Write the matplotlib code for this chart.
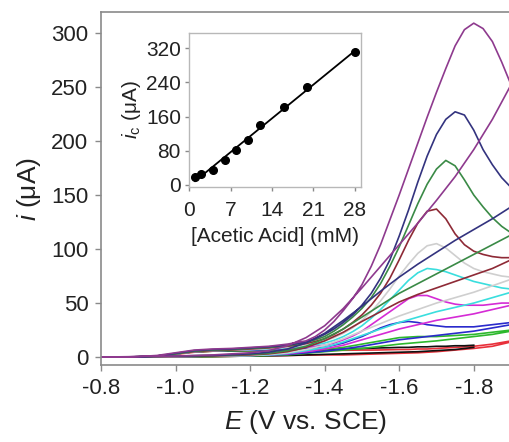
import numpy as np
import matplotlib
matplotlib.use('Agg')
import matplotlib.pyplot as plt

plt.rcParams['font.family'] = ['Liberation Sans', 'DejaVu Sans']
plt.rcParams['mathtext.fontset'] = 'custom'
plt.rcParams['mathtext.rm'] = 'Liberation Sans'
plt.rcParams['mathtext.it'] = 'Liberation Sans:italic'

nan = np.nan

# potential grids (V vs SCE): forward scan, then reverse scan
e_fwd = [-0.8, -0.85, -0.9, -0.95, -1.0, -1.05, -1.1, -1.15, -1.2, -1.25,
         -1.3, -1.325, -1.35, -1.375, -1.4, -1.425, -1.45, -1.475, -1.5, -1.525,
         -1.55, -1.575, -1.6, -1.625, -1.65, -1.675, -1.7, -1.725, -1.75, -1.775,
         -1.8, -1.825, -1.85, -1.875, -1.9]
e_rev = [-1.9, -1.85, -1.8, -1.75, -1.7, -1.65, -1.6, -1.55, -1.5, -1.45,
         -1.4, -1.35, -1.3, -1.25, -1.2, -1.1, -1.0, -0.9, -0.8]

# currents (uA), one CV per acid concentration
red_fwd = [0, 0, 0.3, 1, 2.5, 4.5, 5.5, 5.8, 6, 6,
           6, 6, 6, 6, 6, 6.2, 6.3, 6.4, 6.5, 6.5,
           6.6, 6.8, 7, 7, 7.5, 7.5, 8, 8.5, 9, 9.5,
           10, 11, 12, 13.5, 15]
red_rev = [14, 10, 8, 6.5, 5, 4, 3.5, 3, 2.5, 2, 2, 1.8, 1.5, 1.2, 1, 0.5, 0.3, 0.2, 0]
black_fwd = [0, 0, 0.3, 1, 3, 5, 5.5, 5.8, 6, 6.2,
             6.5, 6.6, 6.8, 6.9, 7, 7.2, 7.5, 7.8, 8, 8.2,
             8.5, 8.7, 9, 9, 9.5, 9.5, 10, 10, 10.5, 10.5,
             11, nan, nan, nan, nan]
black_rev = [nan, nan, 9, 7, 6, 5, 4.5, 4, 3.5, 3, 2.5, 2, 1.5, 1.2, 1, 0.5, 0.3, 0.2, 0]
green_fwd = [0, 0, 0.3, 1, 3, 5, 5.5, 5.8, 6, 6.2,
             6.5, 6.7, 6.8, 7, 7, 8, 9, 10.5, 12, 13.5,
             15, 16.5, 18, 18.5, 19, 19, 19, 19.5, 20, 20.5,
             21, 22, 23, 24, 25]
green_rev = [24, 21, 19, 17, 15, 13.5, 12, 10, 8, 6.5, 5, 3.5, 2, 1.5, 1, 0.5, 0.3, 0.2, 0]
blue_fwd = [0, 0, 0.3, 1, 3, 5, 6, 6.2, 6.5, 7,
            7.5, 7.8, 8, 8.5, 9, 11, 13, 16, 19, 23,
            27, 30, 32, 33, 32, 30, 29, 28, 28, 28,
            28, 29, 30, 31, 32]
blue_rev = [30, 27, 24, 22, 20, 18, 16, 13, 10, 7.5, 5.5, 4, 2.5, 2, 1.5, 1, 0.5, 0.2, 0]
magenta_fwd = [0, 0, 0.3, 1, 3, 5, 6, 6.5, 7, 7.5,
               8, 8.5, 9.5, 10, 11, 13, 16, 19.5, 24, 30,
               36, 42, 48, 54, 57, 57, 54, 51, 49, 48,
               48, 48, 49, 50, 50]
magenta_rev = [48, 44, 40, 37, 34, 30, 26, 21, 16, 11, 7.5, 5, 3, 2, 1.5, 1, 0.5, 0.2, 0]
cyan_fwd = [0, 0, 0.3, 1, 3, 5, 6, 6.5, 7, 7.5,
            8.5, 9.5, 10.5, 11.5, 13, 15.5, 19, 23.5, 29, 36,
            44, 53, 62, 71, 78, 82, 81, 79, 76, 73,
            70, 68, 66, 64, 63]
cyan_rev = [60, 55, 50, 46, 42, 37, 32, 26, 20, 14, 9, 6, 3.5, 2, 1.5, 1, 0.5, 0.2, 0]
gray_fwd = [0, 0, 0.3, 1, 3, 5, 6, 6.5, 7, 8,
            9, 10, 11, 13, 15, 18, 22, 27, 34, 42,
            52, 63, 75, 86, 96, 103, 105, 101, 94, 87,
            82, 79, 77, 75, 74]
gray_rev = [72, 66, 60, 55, 50, 44, 38, 31, 24, 17, 11, 7, 4, 2.5, 1.5, 1, 0.5, 0.2, 0]
brown_fwd = [0, 0, 0.3, 1, 3, 5, 6, 6.5, 7.5, 8.5,
             10, 11, 12.5, 14.5, 17, 21, 26, 32, 39, 48,
             59, 73, 90, 108, 124, 135, 137, 128, 114, 104,
             98, 95, 93, 92, 92]
brown_rev = [90, 82, 76, 70, 64, 58, 51, 42, 33, 23, 15, 9, 5, 3, 2, 1, 0.5, 0.2, 0]
dgreen_fwd = [0, 0, 0.3, 1, 3, 5.5, 6.5, 7, 8, 9,
              10.5, 12, 13.5, 16, 19, 24, 30, 37, 45, 55,
              68, 84, 102, 122, 142, 160, 174, 182, 177, 164,
              150, 139, 129, 121, 115]
dgreen_rev = [113, 104, 95, 86, 77, 68, 59, 48, 37, 26, 17, 10, 6, 3.5, 2.5, 1.5, 1, 0.3, 0]
navy_fwd = [0, 0, 0.3, 1, 3.5, 6, 7, 7.5, 8.5, 9.5,
            11, 12.5, 14, 17, 21, 26, 32, 39, 48, 59,
            73, 90, 112, 136, 162, 186, 206, 220, 227, 224,
            210, 192, 178, 166, 157]
navy_rev = [139, 128, 118, 108, 97, 86, 74, 61, 47, 34, 22, 13, 7.5, 4.5, 3, 1.5, 1, 0.3, 0]
purple_fwd = [0, 0, 0.5, 1.5, 4, 6.5, 7.5, 8, 9, 10,
              12, 13.5, 15, 19, 25, 33, 43, 54, 67, 84,
              104, 127, 150, 174, 198, 222, 245, 267, 288, 303,
              309, 304, 292, 273, 252]
purple_rev = [252, 220, 192, 167, 145, 124, 104, 84, 64, 45, 29, 18, 10.5, 6, 4, 2, 1, 0.5, 0]

# inset: catalytic current vs acid concentration
acid_mM = [1, 2, 4, 6, 8, 10, 12, 16, 20, 28]
ic_uA = [18, 25, 35, 58, 82, 105, 140, 182, 228, 310]

curves = [
    (red_fwd, red_rev, '#e8303a'),
    (black_fwd, black_rev, '#111111'),
    (green_fwd, green_rev, '#2db82d'),
    (blue_fwd, blue_rev, '#2a2acc'),
    (magenta_fwd, magenta_rev, '#d52bd5'),
    (cyan_fwd, cyan_rev, '#3adede'),
    (gray_fwd, gray_rev, '#cfcfcf'),
    (brown_fwd, brown_rev, '#8e2a36'),
    (dgreen_fwd, dgreen_rev, '#3a8a46'),
    (navy_fwd, navy_rev, '#33337f'),
    (purple_fwd, purple_rev, '#8e3a8e'),
]

spine_c = '#8a8a8a'
text_c = '#222222'

fig = plt.figure(figsize=(5.10, 4.42), dpi=100)
ax = fig.add_axes([0.198, 0.174, 0.804, 0.799])

for fwd, rev, c in curves:
    ax.plot(e_fwd + e_rev, fwd + rev, color=c, lw=1.2, solid_joinstyle='round')

ax.set_xlim(-0.8, -1.9)
ax.set_ylim(-7.4, 319.4)
ax.set_xticks([-0.8, -1.0, -1.2, -1.4, -1.6, -1.8])
ax.set_xticklabels(['-0.8', '-1.0', '-1.2', '-1.4', '-1.6', '-1.8'])
ax.set_yticks([0, 50, 100, 150, 200, 250, 300])
ax.tick_params(direction='out', length=4, width=1, color=spine_c, labelsize=16,
               labelcolor=text_c, pad=5)
ax.spines['right'].set_visible(False)
for s in ['left', 'bottom', 'top']:
    ax.spines[s].set_color(spine_c)
    ax.spines[s].set_linewidth(1.2)
ax.set_xlabel(r'$\it{E}$ (V vs. SCE)', fontsize=19, color=text_c, labelpad=7)
ax.set_ylabel(r'$\it{i}$ (μA)', fontsize=19, color=text_c, labelpad=6)

# inset
axi = fig.add_axes([0.371, 0.577, 0.337, 0.348])
fit = np.polyfit(acid_mM, ic_uA, 1)
xf = np.array([acid_mM[0], acid_mM[-1]])
axi.plot(xf, np.polyval(fit, xf), color='black', lw=1.3)
axi.plot(acid_mM, ic_uA, 'o', color='black', ms=5.5)
axi.set_xlim(0, 29.1)
axi.set_ylim(-4.7, 355)
axi.set_xticks([0, 7, 14, 21, 28])
axi.set_yticks([0, 80, 160, 240, 320])
axi.tick_params(direction='out', length=3, width=1, color=spine_c, labelsize=15,
                labelcolor=text_c, pad=3)
axi.tick_params(axis='x', pad=7)
for s in axi.spines.values():
    s.set_color('#b8b8b8')
    s.set_linewidth(1.0)
axi.set_xlabel('[Acetic Acid] (mM)', fontsize=15, color=text_c, labelpad=5)
axi.set_ylabel(r'$\it{i}_{\rm c}$ (μA)', fontsize=15, color=text_c, labelpad=2)

fig.savefig('out.png', dpi=100)
